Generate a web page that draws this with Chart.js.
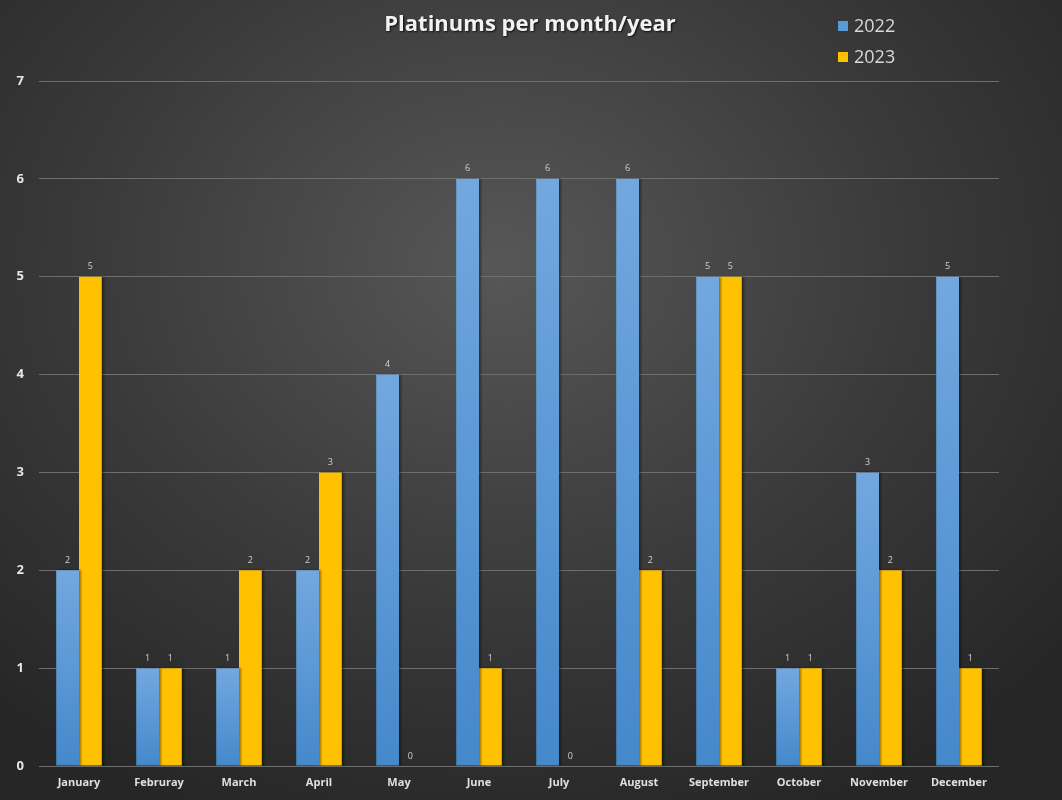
<!DOCTYPE html>
<html><head><meta charset="utf-8">
<script src="https://cdn.jsdelivr.net/npm/chart.js@4"></script>
<style>
html,body{margin:0;padding:0;}
body{width:1062px;height:800px;overflow:hidden;background:radial-gradient(ellipse 70% 75% at 47% 33%, #575757 0%, #3a3a3a 55%, #262626 100%);}
#wrap{position:relative;width:1062px;height:800px;}
</style></head>
<body><div id="wrap"><canvas id="c" width="1062" height="800"></canvas></div>
<script>
const titleText = 'Platinums per month/year';
const months = ['January','Februray','March','April','May','June','July','August','September','October','November','December'];
const series2022 = [2,1,1,2,4,6,6,6,5,1,3,5];
const series2023 = [5,1,2,3,0,1,0,2,5,1,2,1];
const yTicks = [0,1,2,3,4,5,6,7];

const FONT = "'Open Sans', 'DejaVu Sans', sans-serif";

function blueGrad(ctx){
  const chart = ctx.chart;
  const a = chart.chartArea;
  if(!a) return '#5b9bd5';
  const y = chart.scales.y;
  const v = ctx.raw || 0;
  const top = y.getPixelForValue(v);
  const bot = y.getPixelForValue(0);
  if (bot - top < 1) return '#5b9bd5';
  const g = chart.ctx.createLinearGradient(0, top, 0, bot);
  g.addColorStop(0, '#72a8df');
  g.addColorStop(1, '#4588cb');
  return g;
}

const shadowPlugin = {
  id:'barShadow',
  beforeDatasetsDraw(chart){
    const c = chart.ctx; c.save();
    c.shadowColor='rgba(0,0,0,0.4)'; c.shadowOffsetX=2; c.shadowOffsetY=0; c.shadowBlur=2;
  },
  afterDatasetsDraw(chart){ chart.ctx.restore(); }
};

const labelPlugin = {
  id:'valueLabels',
  afterDatasetsDraw(chart){
    const c = chart.ctx;
    c.save();
    c.font = "9px " + FONT;
    c.fillStyle = '#d0d0d0';
    c.textAlign='center'; c.textBaseline='middle';
    chart.data.datasets.forEach((ds,i)=>{
      const meta = chart.getDatasetMeta(i);
      meta.data.forEach((bar,j)=>{
        c.fillText(String(ds.data[j]), bar.x, bar.y - 10);
      });
    });
    c.restore();
  }
};

const headerPlugin = {
  id:'header',
  afterDraw(chart){
    const c = chart.ctx;
    c.save();
    c.font = "bold 22px " + FONT;
    c.textAlign='center'; c.textBaseline='middle';
    c.shadowColor='rgba(0,0,0,0.8)'; c.shadowOffsetX=1; c.shadowOffsetY=1; c.shadowBlur=2;
    c.fillStyle='#f2f2f2';
    c.fillText(titleText, 530, 25);
    c.restore();
    c.save();
    c.font = "18px " + FONT;
    c.textAlign='left'; c.textBaseline='middle';
    chart.data.datasets.forEach((ds,i)=>{
      const y = 26 + i*31;
      c.fillStyle = ds.legendColor;
      c.fillRect(838, y-5, 10, 10);
      c.fillStyle = '#d9d9d9';
      c.fillText(ds.label, 854, y+1);
    });
    c.restore();
  }
};

new Chart(document.getElementById('c'), {
  type:'bar',
  data:{
    labels: months,
    datasets:[
      {label:'2022', data:series2022, backgroundColor: blueGrad, legendColor:'#5b9bd5', borderWidth:0},
      {label:'2023', data:series2023, backgroundColor:'#ffc000', legendColor:'#ffc000', borderWidth:0}
    ]
  },
  options:{
    responsive:false, animation:false,
    layout:{padding:{top:81, right:63, bottom:0, left:0}},
    datasets:{bar:{categoryPercentage:0.57, barPercentage:1.0}},
    plugins:{legend:{display:false}, title:{display:false}, tooltip:{enabled:false}},
    scales:{
      x:{
        grid:{display:false, drawTicks:false},
        border:{display:false},
        ticks:{color:'#e0e0e0', font:{family:FONT, size:11, weight:'bold'}, padding:10, maxRotation:0},
        afterFit(s){ s.height = 34; }
      },
      y:{
        min:0, max:7,
        afterBuildTicks(s){ s.ticks = yTicks.map(v=>({value:v})); },
        grid:{color:'#6e6e6e', lineWidth:1, drawTicks:false},
        border:{display:false},
        ticks:{color:'#e6e6e6', font:{family:FONT, size:13, weight:'bold'}, padding:15},
        afterFit(s){ s.width = 39; }
      }
    }
  },
  plugins:[shadowPlugin, labelPlugin, headerPlugin]
});
</script></body></html>
